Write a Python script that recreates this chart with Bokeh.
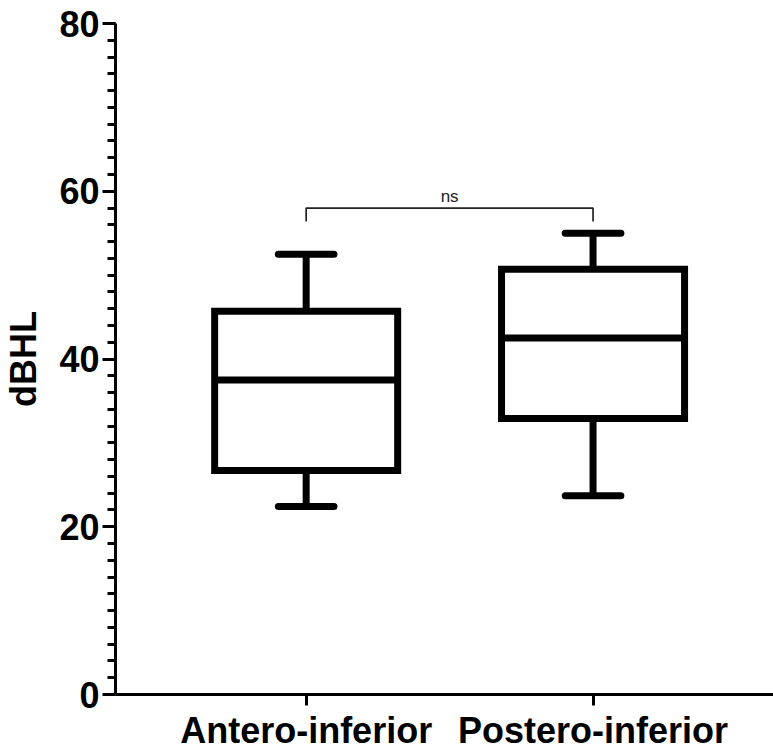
from bokeh.plotting import figure
from bokeh.models import Range1d, FixedTicker, ColumnDataSource
from bokeh.core.properties import value
from bokeh.embed import file_html
from bokeh.resources import INLINE

# ---- data ----
categories = ["Antero-inferior", "Postero-inferior"]
whisker_min = [22.4, 23.7]
q1 = [26.7, 32.9]
median = [37.5, 42.5]
q3 = [45.7, 50.7]
whisker_max = [52.5, 55.0]
y_ticks = [0, 20, 40, 60, 80]
sig_label = "ns"
sig_bracket_y = 58.0
sig_bracket_drop = 1.6

FONT = "Liberation Sans"
xs = list(range(1, len(categories) + 1))
box_half = 0.319
cap_half = 0.097

src = ColumnDataSource(dict(
    x=xs,
    left=[x - box_half for x in xs],
    right=[x + box_half for x in xs],
    cap_l=[x - cap_half for x in xs],
    cap_r=[x + cap_half for x in xs],
    lo=whisker_min, q1=q1, med=median, q3=q3, hi=whisker_max,
))

p = figure(width=773, height=756, output_backend="svg", toolbar_location=None,
           x_range=Range1d(0.3354, 2.629), y_range=Range1d(0, 80),
           min_border_left=113, min_border_right=0, min_border_top=23,
           min_border_bottom=62)
p.outline_line_color = None
p.xgrid.visible = False
p.ygrid.visible = False
p.background_fill_color = "white"
p.border_fill_color = "white"

LW = 7
# whiskers
p.segment(x0="x", y0="q3", x1="x", y1="hi", source=src, line_width=LW, line_color="black")
p.segment(x0="x", y0="lo", x1="x", y1="q1", source=src, line_width=LW, line_color="black")
# caps
p.segment(x0="cap_l", y0="hi", x1="cap_r", y1="hi", source=src, line_width=LW,
          line_color="black", line_cap="round")
p.segment(x0="cap_l", y0="lo", x1="cap_r", y1="lo", source=src, line_width=LW,
          line_color="black", line_cap="round")
# boxes
p.quad(left="left", right="right", bottom="q1", top="q3", source=src, fill_color="white",
       line_color="black", line_width=LW, line_join="miter")
# medians
p.segment(x0="left", y0="med", x1="right", y1="med", source=src, line_width=LW, line_color="black")

# significance bracket
bx = [xs[0], xs[0], xs[1], xs[1]]
by = [sig_bracket_y - sig_bracket_drop, sig_bracket_y, sig_bracket_y, sig_bracket_y - sig_bracket_drop]
p.line(bx, by, line_width=1.7, line_color="#222222")
p.text(x=[(xs[0] + xs[1]) / 2], y=[sig_bracket_y + 1.4], text=[sig_label],
       text_font=value(FONT), text_font_size="17px", text_color="#222222",
       text_align="center", text_baseline="alphabetic")

# y axis
ya = p.yaxis[0]
ya.ticker = FixedTicker(ticks=y_ticks, minor_ticks=list(range(0, 81, 2)))
ya.axis_label = "dBHL"
ya.axis_label_text_font = FONT
ya.axis_label_text_font_style = "bold"
ya.axis_label_text_font_size = "36px"
ya.axis_label_text_color = "black"
ya.axis_label_standoff = 12
ya.major_label_text_font = FONT
ya.major_label_text_font_style = "bold"
ya.major_label_text_font_size = "36px"
ya.major_label_text_color = "black"
ya.major_label_standoff = 3
ya.axis_line_width = 3
ya.axis_line_color = "black"
ya.major_tick_line_width = 3
ya.major_tick_line_color = "black"
ya.major_tick_out = 13
ya.major_tick_in = 0
ya.minor_tick_line_width = 3
ya.minor_tick_line_color = "black"
ya.minor_tick_out = 8
ya.minor_tick_in = 0

# x axis
xa = p.xaxis[0]
xa.ticker = FixedTicker(ticks=xs, minor_ticks=[])
xa.major_label_overrides = {x: c for x, c in zip(xs, categories)}
xa.major_label_text_font = FONT
xa.major_label_text_font_style = "bold"
xa.major_label_text_font_size = "36px"
xa.major_label_text_color = "black"
xa.major_label_standoff = 4
xa.axis_line_width = 3
xa.axis_line_color = "black"
xa.major_tick_line_width = 3
xa.major_tick_line_color = "black"
xa.major_tick_out = 11
xa.major_tick_in = 0
xa.minor_tick_line_color = None

open("out.html", "w").write(file_html(p, INLINE))
